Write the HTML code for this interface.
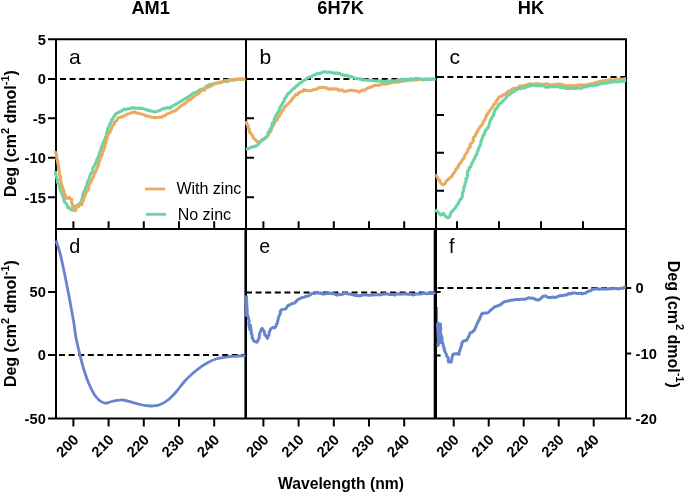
<!DOCTYPE html>
<html><head><meta charset="utf-8"><title>CD spectra</title>
<style>
html,body{margin:0;padding:0;background:#fff;}
svg{display:block;will-change:transform;}
text{font-family:"Liberation Sans",Arial,sans-serif;fill:#000;}
.b{font-weight:bold;}
.tk{font-weight:bold;font-size:14.67px;}
.ttl{font-weight:bold;font-size:18.2px;}
.ax{font-weight:bold;font-size:16px;}
.lab{font-size:21.33px;}
.lg{font-size:16px;}
</style></head><body>
<svg width="685" height="494" viewBox="0 0 685 494">
<rect width="685" height="494" fill="#fff"/>

<text class="ttl" x="150.6" y="14" text-anchor="middle">AM1</text>
<text class="ttl" x="340.6" y="14" text-anchor="middle">6H7K</text>
<text class="ttl" x="531" y="14" text-anchor="middle">HK</text>
<path d="M60.0,78.9H66.0M69.6,78.9H75.6M79.2,78.9H85.2M88.8,78.9H94.8M98.4,78.9H104.4M108.0,78.9H114.0M117.6,78.9H123.6M127.2,78.9H133.2M136.8,78.9H142.8M146.4,78.9H152.4M156.0,78.9H162.0M165.6,78.9H171.6M175.2,78.9H181.2M184.8,78.9H190.8M194.4,78.9H200.4M204.0,78.9H210.0M213.6,78.9H219.6M223.2,78.9H229.2M232.8,78.9H238.8M242.4,78.9H246.0" stroke="#000" stroke-width="2.0" fill="none"/>
<path d="M257.0,78.9H263.0M266.6,78.9H272.6M276.2,78.9H282.2M285.8,78.9H291.8M295.4,78.9H301.4M305.0,78.9H311.0M314.6,78.9H320.6M324.2,78.9H330.2M333.8,78.9H339.8M343.4,78.9H349.4M353.0,78.9H359.0M362.6,78.9H368.6M372.2,78.9H378.2M381.8,78.9H387.8M391.4,78.9H397.4M401.0,78.9H407.0M410.6,78.9H416.6M420.2,78.9H426.2M429.8,78.9H435.8" stroke="#000" stroke-width="2.0" fill="none"/>
<path d="M447.4,77.1H453.4M457.0,77.1H463.0M466.6,77.1H472.6M476.2,77.1H482.2M485.8,77.1H491.8M495.4,77.1H501.4M505.0,77.1H511.0M514.6,77.1H520.6M524.2,77.1H530.2M533.8,77.1H539.8M543.4,77.1H549.4M553.0,77.1H559.0M562.6,77.1H568.6M572.2,77.1H578.2M581.8,77.1H587.8M591.4,77.1H597.4M601.0,77.1H607.0M610.6,77.1H616.6M620.2,77.1H626.0" stroke="#000" stroke-width="2.0" fill="none"/>
<path d="M59.0,355H65.0M68.6,355H74.6M78.2,355H84.2M87.8,355H93.8M97.4,355H103.4M107.0,355H113.0M116.6,355H122.6M126.2,355H132.2M135.8,355H141.8M145.4,355H151.4M155.0,355H161.0M164.6,355H170.6M174.2,355H180.2M183.8,355H189.8M193.4,355H199.4M203.0,355H209.0M212.6,355H218.6M222.2,355H228.2M231.8,355H237.8M241.4,355H246.0" stroke="#000" stroke-width="2.0" fill="none"/>
<path d="M246.0,292.4H252.0M255.6,292.4H261.6M265.2,292.4H271.2M274.8,292.4H280.8M284.4,292.4H290.4M294.0,292.4H300.0M303.6,292.4H309.6M313.2,292.4H319.2M322.8,292.4H328.8M332.4,292.4H338.4M342.0,292.4H348.0M351.6,292.4H357.6M361.2,292.4H367.2M370.8,292.4H376.8M380.4,292.4H386.4M390.0,292.4H396.0M399.6,292.4H405.6M409.2,292.4H415.2M418.8,292.4H424.8M428.4,292.4H434.4" stroke="#000" stroke-width="2.0" fill="none"/>
<path d="M437.8,288H443.8M447.4,288H453.4M457.0,288H463.0M466.6,288H472.6M476.2,288H482.2M485.8,288H491.8M495.4,288H501.4M505.0,288H511.0M514.6,288H520.6M524.2,288H530.2M533.8,288H539.8M543.4,288H549.4M553.0,288H559.0M562.6,288H568.6M572.2,288H578.2M581.8,288H587.8M591.4,288H597.4M601.0,288H607.0M610.6,288H616.6M620.2,288H626.0" stroke="#000" stroke-width="2.0" fill="none"/>
<path d="M56,38.3V419.6M246,39.3V418.6M436,39.3V418.6M626,38.3V419.6M245.4,228.9V418.6M434.7,228.9V418.6M56,39.3H626M56,228.9H626M56,418.6H626M48,39.3H56M48,78.9H56M48,118.3H56M48,157.8H56M48,197.3H56M48,292H56M48,355H56M48,418.6H56M246,78.9H254M246,118.3H254M246,157.8H254M246,197.3H254M436,77.1H444M436,115H444M436,152.8H444M436,190.7H444M436,292H440.6M436,355.5H440.6M626,288H631.2M626,353.4H631.2M626,418.6H631.2M73.4,228.9V221.3M108.6,228.9V221.3M143.8,228.9V221.3M179.0,228.9V221.3M214.2,228.9V221.3M263.4,228.9V221.3M298.6,228.9V221.3M333.8,228.9V221.3M369.0,228.9V221.3M404.2,228.9V221.3M457.0,228.9V221.3M499.0,228.9V221.3M541.0,228.9V221.3M583.0,228.9V221.3M73.4,418.6V426.6M108.6,418.6V426.6M143.8,418.6V426.6M179.0,418.6V426.6M214.2,418.6V426.6M263.4,418.6V426.6M298.6,418.6V426.6M333.8,418.6V426.6M369.0,418.6V426.6M404.2,418.6V426.6M453.7,418.6V426.6M488.7,418.6V426.6M523.7,418.6V426.6M558.7,418.6V426.6M593.7,418.6V426.6" stroke="#000" stroke-width="2.0" fill="none" stroke-linecap="butt"/>
<g>
<polyline points="55.5,171.0 55.4,172.9 55.7,174.7 56.4,176.5 56.9,178.2 57.3,180.0 57.3,181.9 58.5,183.6 59.5,185.3 59.6,187.2 60.1,188.8 60.6,190.5 61.5,192.0 61.8,193.7 62.4,195.2 63.5,196.6 63.5,198.3 64.2,199.8 64.2,201.6 65.4,202.8 66.4,203.7 67.0,205.0 67.7,206.1 67.9,207.5 69.6,208.2 70.9,209.3 72.0,209.9 73.2,210.3 74.4,208.3 75.2,206.3 76.9,205.7 78.2,204.7 79.8,203.5 81.0,201.9 81.8,200.5 81.9,198.9 82.4,197.4 83.0,195.9 82.9,194.2 83.6,192.8 84.2,191.1 85.5,189.8 85.5,188.0 86.3,186.4 86.9,184.8 87.3,183.1 87.5,181.4 88.9,180.0 89.1,178.3 90.0,176.8 90.1,175.0 91.0,173.5 92.1,172.2 92.8,170.6 92.7,168.7 93.3,167.1 94.4,165.7 95.3,164.2 95.8,162.6 96.5,161.0 96.9,159.2 98.0,157.8 98.8,156.3 99.1,154.5 99.4,152.9 100.1,151.3 101.1,149.9 101.0,148.0 102.0,146.6 102.3,144.9 103.1,143.4 103.6,141.8 104.3,140.2 105.3,138.7 105.5,137.0 106.4,135.5 106.5,133.7 107.0,132.0 107.8,130.5 107.5,128.6 108.8,127.2 109.5,125.6 109.7,123.9 111.0,122.6 111.6,120.9 111.9,119.2 113.4,118.0 114.0,116.4 115.0,115.0 116.0,113.6 117.8,113.1 119.2,112.0 120.8,111.2 122.5,110.5 123.8,109.1 125.8,109.7 127.4,108.7 129.2,108.9 130.8,108.1 132.5,107.9 134.3,107.8 136.1,108.2 137.6,108.1 139.2,108.0 140.8,108.4 142.5,108.4 144.0,109.0 145.6,109.3 146.9,110.2 148.6,110.1 150.0,110.9 151.7,111.1 153.4,111.5 155.0,112.2 156.8,111.3 158.6,110.7 160.4,110.1 162.1,109.3 163.5,108.3 165.2,108.6 166.7,107.6 168.4,107.9 170.1,108.2 171.6,106.6 173.1,105.7 174.8,104.9 176.4,103.9 178.0,103.0 179.2,102.0 180.8,101.6 182.1,100.7 183.3,99.6 184.7,98.9 186.1,98.2 187.5,97.4 188.7,96.4 190.1,95.7 191.3,94.6 192.5,93.6 193.9,92.9 195.6,92.5 197.1,91.8 198.5,90.8 199.9,89.8 201.6,89.2 203.4,88.7 205.0,87.7 206.3,86.3 208.0,85.6 209.5,84.7 211.1,84.2 212.8,84.1 214.4,83.5 216.1,83.3 217.7,83.1 219.2,82.7 220.9,82.6 222.4,81.7 223.9,81.3 225.6,81.4 227.4,81.7 228.8,80.7 230.3,80.0 232.0,80.1 233.6,80.3 235.2,79.4 236.8,79.8 238.4,79.2 240.0,79.6 241.8,79.4 243.7,79.2 245.5,79.0" fill="none" stroke="#6CD4A4" stroke-width="3.1" stroke-linejoin="round" stroke-linecap="butt"/>
<polyline points="56.0,151.0 55.5,152.7 56.6,154.2 56.5,155.9 56.8,157.5 56.9,159.2 57.7,160.7 57.7,162.4 58.0,164.0 58.3,165.6 58.5,167.3 58.7,168.9 58.9,170.5 59.4,172.1 59.3,173.8 59.9,175.4 60.9,176.9 59.9,178.7 60.7,180.3 61.1,181.9 61.3,183.5 61.8,185.1 62.3,186.7 63.0,188.2 63.2,189.9 64.1,191.3 63.7,193.1 65.0,194.5 65.6,196.4 66.4,198.3 67.8,197.9 69.1,197.3 69.9,198.8 71.8,199.5 71.4,201.7 71.9,203.3 72.5,204.9 72.4,206.6 73.8,207.9 74.3,209.5 75.6,210.7 75.8,209.8 76.1,208.3 76.9,207.1 78.8,206.6 79.3,205.1 80.1,203.8 81.9,204.7 82.1,202.9 82.8,201.2 83.8,199.7 83.7,197.7 84.9,196.3 85.0,194.4 86.2,193.0 86.6,191.2 88.1,190.0 88.6,188.3 88.9,186.5 89.2,184.7 90.2,183.2 91.1,181.7 91.6,180.0 92.6,178.5 93.5,177.0 93.9,175.3 94.5,173.6 95.5,172.2 95.9,170.4 96.9,169.0 97.3,167.2 98.4,165.8 98.5,164.0 98.9,162.3 99.8,160.9 100.2,159.2 100.7,157.5 101.5,156.0 102.4,154.5 102.1,152.6 103.2,151.2 103.7,149.5 104.1,147.9 104.9,146.4 104.7,144.6 105.8,143.1 106.0,141.4 106.6,139.9 107.0,138.2 107.4,136.6 107.8,134.9 108.8,133.6 110.0,132.4 110.4,130.8 111.1,129.4 111.7,127.9 112.1,126.3 113.1,125.1 114.5,123.9 114.7,122.0 116.2,120.9 117.2,119.6 118.0,118.0 119.7,117.5 121.4,116.9 123.1,116.4 124.6,115.5 126.2,114.8 127.6,114.0 129.3,113.7 130.8,113.0 132.4,112.5 134.0,111.8 135.6,112.6 137.1,113.2 138.8,113.1 140.4,113.7 142.0,114.2 143.6,114.6 145.1,115.5 146.8,115.9 148.5,116.1 150.1,116.7 151.7,117.3 153.3,117.4 155.0,117.6 156.7,117.5 158.3,117.5 160.0,117.1 161.8,117.3 163.1,115.9 164.9,115.7 166.3,114.4 167.9,113.8 169.6,113.2 171.1,112.3 172.7,111.4 174.5,111.0 176.1,110.2 177.4,109.1 178.6,107.9 179.8,106.8 181.2,105.9 182.6,104.9 184.0,104.0 185.5,103.2 186.6,102.0 187.9,100.8 189.2,99.8 190.9,99.3 192.0,98.0 193.4,97.1 194.7,96.1 196.1,95.1 197.4,94.0 198.9,93.3 200.1,92.2 200.9,90.4 202.6,90.3 204.5,90.3 205.1,88.3 206.7,87.9 208.2,87.3 209.6,86.3 211.4,86.0 212.7,84.6 214.3,83.9 216.0,83.5 217.5,82.9 219.1,82.3 220.9,82.2 222.4,81.6 224.0,81.0 225.6,80.6 227.2,80.5 228.8,80.1 230.4,79.7 232.0,79.8 233.6,79.6 235.2,79.4 236.8,79.4 238.4,78.8 240.0,79.0 241.8,78.8 243.7,79.4 245.5,79.0" fill="none" stroke="#EAAB61" stroke-width="3.1" stroke-linejoin="round" stroke-linecap="butt"/>
<polyline points="246.0,121.0 246.5,122.6 246.8,124.3 248.0,125.6 248.0,127.4 248.9,128.8 249.5,130.4 249.5,132.2 251.0,133.5 252.0,135.0 252.8,136.6 253.7,138.2 255.0,139.2 255.9,140.6 257.2,141.6 258.1,142.9 259.3,142.2 260.5,141.3 261.8,140.6 262.9,139.6 264.4,138.9 265.6,138.0 266.7,136.9 268.0,136.0 268.4,134.2 269.6,132.8 270.5,131.2 271.4,129.7 271.8,127.9 272.8,126.5 273.2,124.8 274.4,123.6 274.9,121.9 275.9,120.6 277.4,119.6 277.4,117.7 279.1,116.7 279.8,115.2 280.5,113.7 281.5,112.4 282.4,110.9 283.4,109.6 283.9,108.0 285.1,106.7 286.3,105.5 287.4,104.2 288.8,103.2 289.8,101.8 291.4,100.8 292.0,98.8 293.4,97.6 294.6,96.2 295.5,94.6 297.6,94.7 298.3,92.7 300.0,92.4 301.2,91.5 302.9,91.3 303.7,89.5 305.4,90.6 307.0,90.3 308.5,90.7 310.0,90.8 311.6,90.7 312.9,89.7 314.5,89.5 316.0,89.1 317.7,89.0 318.8,87.3 320.6,87.9 322.1,87.3 323.6,87.3 325.2,87.9 326.8,88.1 328.3,89.1 330.0,89.1 331.5,88.9 333.0,88.9 334.5,88.9 336.0,88.9 337.7,89.3 339.0,90.6 341.0,90.0 342.7,90.1 344.0,91.6 345.6,91.2 347.2,91.1 348.8,90.6 350.4,90.3 352.0,90.1 353.7,90.7 355.5,90.7 357.3,91.1 358.9,92.2 360.8,91.1 362.4,90.0 364.5,90.3 366.1,89.2 367.5,88.2 369.1,87.5 370.8,87.3 372.3,86.4 373.9,85.7 375.5,85.3 377.2,85.2 378.9,85.4 380.4,84.6 381.9,84.0 383.6,84.3 385.2,83.9 386.8,83.8 388.5,83.6 390.0,83.0 391.7,82.7 393.3,82.5 395.0,82.0 396.7,82.3 398.4,82.2 400.0,81.7 401.7,81.3 403.3,81.1 405.0,80.8 406.6,80.6 408.3,80.5 410.0,80.1 411.7,80.1 413.3,79.7 415.0,80.1 416.7,79.9 418.3,79.4 419.9,78.9 421.6,79.5 423.2,79.8 424.8,79.1 426.4,79.1 428.0,79.0 429.9,79.3 431.7,78.8 433.6,79.3 435.5,79.0" fill="none" stroke="#EAAB61" stroke-width="3.1" stroke-linejoin="round" stroke-linecap="butt"/>
<polyline points="246.0,149.5 247.5,148.9 249.1,148.4 250.4,147.5 252.0,147.1 253.6,146.8 255.0,146.1 256.6,145.9 257.9,144.7 259.0,143.8 259.8,142.4 260.8,141.1 262.0,140.0 263.4,139.1 264.7,138.1 266.1,137.1 267.4,135.9 267.8,134.3 268.0,132.6 269.3,131.4 269.8,129.9 270.5,128.4 271.7,127.0 271.9,125.3 272.1,123.5 273.4,122.3 273.9,120.6 274.3,119.0 275.1,117.4 275.8,115.9 276.7,114.5 277.4,112.9 278.3,111.5 279.5,110.2 279.5,108.4 280.3,106.9 281.2,105.5 282.3,104.1 282.7,102.5 284.1,101.4 284.2,99.5 285.2,98.1 286.3,96.8 286.9,95.3 287.8,93.9 289.3,92.9 290.6,91.8 291.6,90.4 292.7,89.1 294.3,88.3 295.3,87.1 296.4,85.9 297.8,85.3 298.6,83.8 300.0,83.0 301.4,82.3 302.7,81.3 303.9,80.4 305.4,79.8 306.6,78.7 307.9,77.8 309.5,76.9 311.4,76.8 312.7,75.5 314.6,75.1 316.1,74.1 317.6,73.5 319.2,73.4 320.8,72.9 322.4,72.4 323.9,71.6 325.5,72.0 327.0,72.3 328.5,72.1 330.0,72.3 331.5,72.8 333.2,72.8 334.7,73.5 336.5,72.8 338.0,73.5 339.8,73.2 341.1,74.6 342.8,74.8 344.3,75.6 346.0,75.4 347.8,75.4 349.1,76.9 350.9,76.6 352.5,77.1 354.0,77.9 355.6,78.5 357.2,78.5 358.8,79.0 360.5,78.7 361.9,80.1 363.6,79.7 365.2,80.0 366.8,80.3 368.4,80.3 370.0,80.5 371.7,80.2 373.3,80.6 375.0,80.8 376.6,81.1 378.3,80.9 380.0,81.0 381.5,81.2 383.0,81.4 384.5,81.4 386.0,81.3 387.6,81.0 389.2,81.3 390.8,80.9 392.4,80.6 394.1,81.4 395.6,80.5 397.2,80.3 398.8,80.0 400.4,79.5 402.0,79.9 403.6,79.5 405.2,79.4 406.8,79.5 408.4,79.4 410.0,79.1 411.5,78.9 413.1,79.3 414.5,78.7 416.0,78.1 417.6,78.8 419.2,78.8 420.8,78.9 422.4,79.2 424.0,79.3 425.7,79.8 427.3,79.2 428.9,79.2 430.6,79.4 432.2,78.9 433.9,79.3 435.5,79.0" fill="none" stroke="#6CD4A4" stroke-width="3.1" stroke-linejoin="round" stroke-linecap="butt"/>
<polyline points="435.5,174.6 436.7,176.0 437.6,177.5 438.0,179.3 439.7,180.3 440.0,182.2 441.5,183.4 442.2,184.5 443.7,184.7 445.2,183.4 446.0,181.5 447.4,180.2 448.8,178.8 450.2,177.5 451.9,176.4 452.5,174.7 453.6,173.3 454.8,172.0 455.5,170.3 456.3,168.8 457.9,167.6 458.2,166.0 459.0,164.6 460.1,163.5 460.9,162.1 461.8,160.8 462.7,159.2 464.2,158.0 464.6,156.0 465.5,154.4 466.6,152.9 467.7,151.5 467.9,149.7 468.6,148.1 470.3,147.0 470.0,144.9 471.1,143.5 472.2,142.1 473.4,140.8 473.2,138.9 473.6,137.2 475.2,136.1 475.6,134.4 476.4,132.9 477.4,131.6 478.1,130.0 479.1,128.5 479.9,126.9 481.3,125.7 482.4,124.3 483.0,122.5 483.9,120.9 485.0,119.5 485.7,117.9 486.1,116.1 487.1,114.5 488.3,113.1 489.0,111.6 489.9,110.3 491.1,109.0 492.0,107.7 493.0,106.3 493.5,104.7 495.3,103.9 495.7,102.4 496.3,100.9 497.6,99.8 498.2,98.4 499.0,97.0 500.6,96.5 502.1,96.0 503.3,94.7 504.8,94.2 506.3,93.6 507.4,91.8 509.1,91.0 510.9,90.4 512.1,88.9 514.0,88.3 515.7,88.2 517.3,87.6 518.9,86.9 520.2,85.6 522.2,86.3 523.6,85.5 525.2,85.3 526.8,85.0 528.3,84.1 529.9,84.0 531.6,83.9 533.4,84.8 535.0,83.9 536.7,83.9 538.3,83.8 540.0,84.0 541.7,84.2 543.5,84.4 545.3,84.1 547.2,83.8 548.8,85.0 550.5,84.9 552.3,85.1 554.0,84.5 555.7,84.3 557.5,84.4 559.3,84.0 560.9,84.4 562.6,84.6 564.3,85.2 565.9,85.9 567.7,85.7 569.4,85.9 571.1,85.7 572.8,85.7 574.6,85.6 576.3,85.7 578.0,85.1 579.6,85.2 581.3,84.9 583.1,85.3 584.8,85.0 586.5,84.9 588.3,84.8 589.9,83.8 591.7,83.8 593.4,83.6 595.0,82.6 596.8,82.5 598.4,81.8 600.0,81.1 601.8,81.3 603.5,80.8 605.2,80.8 606.9,80.3 608.6,80.3 610.2,79.4 612.1,80.5 613.7,80.1 615.4,79.4 617.1,79.1 618.8,79.2 620.6,79.2 622.4,79.0 624.2,78.8 626.0,78.5" fill="none" stroke="#EAAB61" stroke-width="3.1" stroke-linejoin="round" stroke-linecap="butt"/>
<polyline points="435.5,209.2 436.3,210.7 437.8,211.7 438.6,212.7 439.7,213.8 440.6,215.1 442.3,214.3 443.5,213.3 444.5,215.2 445.8,216.3 446.7,217.5 448.2,217.7 449.6,216.8 450.0,215.1 450.7,213.6 451.5,212.0 452.7,210.7 453.8,209.3 455.1,208.1 456.0,206.6 456.9,205.0 458.3,203.9 458.6,202.1 459.8,200.9 460.2,199.3 461.6,198.2 462.2,196.6 462.4,195.0 462.4,193.3 463.2,191.8 463.6,190.2 463.7,188.6 464.0,187.0 465.0,185.6 464.9,183.9 465.6,182.3 466.2,180.8 465.8,178.9 467.2,177.6 467.4,175.9 467.3,174.2 467.6,172.5 467.9,170.9 469.2,169.7 469.0,167.9 470.6,167.0 471.0,165.5 471.6,163.9 472.4,162.4 473.2,160.9 473.9,159.4 475.0,158.0 475.3,156.3 476.4,155.0 477.0,153.5 477.3,151.8 478.1,150.4 478.4,148.8 479.2,147.3 479.9,145.7 480.8,144.3 480.8,142.5 481.3,140.8 481.9,139.2 482.4,137.6 482.7,135.9 484.2,134.8 484.3,133.1 485.0,131.6 485.7,130.2 486.8,128.9 488.1,127.8 488.8,126.4 489.0,124.6 489.5,122.9 490.1,121.3 490.6,119.6 491.8,118.2 492.3,116.6 493.6,115.3 493.8,113.5 494.4,111.9 495.0,110.2 495.9,108.7 497.3,107.6 498.1,106.1 499.0,104.6 500.1,103.3 501.7,102.5 502.7,101.1 504.0,100.0 505.2,98.8 506.2,97.4 507.2,96.0 508.8,95.2 510.0,94.0 511.5,92.9 513.2,92.0 514.7,90.9 515.9,89.5 517.6,89.4 519.0,88.2 520.8,88.6 522.4,88.0 524.1,87.9 525.7,87.4 527.1,86.4 528.8,86.1 530.5,86.0 532.0,85.0 533.6,85.4 535.2,85.3 536.8,85.8 538.4,85.8 540.0,85.7 541.9,85.8 543.8,85.9 545.4,87.1 547.3,87.1 549.0,86.9 550.8,86.8 552.5,86.5 554.3,86.8 556.0,86.7 557.8,86.1 559.4,87.1 561.1,87.4 562.9,87.5 564.6,87.9 566.2,88.7 568.0,88.3 569.6,88.6 571.3,88.5 573.0,87.7 574.7,88.7 576.3,88.3 578.0,88.1 579.7,88.2 581.5,88.3 583.1,87.1 584.8,86.9 586.5,86.9 588.1,86.0 589.8,85.8 591.6,85.8 593.3,85.6 595.0,85.2 596.8,84.9 598.5,84.6 600.1,83.9 601.8,83.6 603.5,83.3 605.2,82.9 607.0,83.1 608.6,82.7 610.2,81.6 612.0,82.2 613.7,81.6 615.4,81.4 617.1,82.0 618.8,81.8 620.6,81.5 622.4,81.1 624.3,81.2 626.0,80.4" fill="none" stroke="#6CD4A4" stroke-width="3.1" stroke-linejoin="round" stroke-linecap="butt"/>
<path d="M56.0,240.6C56.7,242.7 58.7,247.9 60.0,253.0C61.3,258.1 62.7,264.7 64.0,271.0C65.3,277.3 66.8,285.0 68.0,291.0C69.2,297.0 70.0,301.5 71.0,307.0C72.0,312.5 73.2,318.6 74.0,323.8C74.8,329.0 75.0,332.8 76.0,338.0C77.0,343.2 78.7,349.7 80.0,355.0C81.3,360.3 82.5,365.2 84.0,370.0C85.5,374.8 87.3,380.0 89.0,384.0C90.7,388.0 92.3,391.3 94.0,394.0C95.7,396.7 97.2,398.5 99.0,400.0C100.8,401.5 103.2,402.9 105.0,403.2C106.8,403.5 108.2,402.4 110.0,402.0C111.8,401.6 113.8,400.9 116.0,400.6C118.2,400.3 120.7,399.8 123.0,400.0C125.3,400.2 127.5,400.9 130.0,401.6C132.5,402.3 135.3,403.3 138.0,404.0C140.7,404.7 143.7,405.3 146.0,405.6C148.3,405.9 149.8,406.1 152.0,406.0C154.2,405.9 156.3,406.0 159.0,405.0C161.7,404.0 165.2,402.2 168.0,400.0C170.8,397.8 173.3,395.0 176.0,392.0C178.7,389.0 181.3,385.0 184.0,382.0C186.7,379.0 189.3,376.4 192.0,374.0C194.7,371.6 197.3,369.5 200.0,367.6C202.7,365.7 205.3,363.8 208.0,362.4C210.7,361.0 213.3,359.8 216.0,359.0C218.7,358.2 221.3,357.8 224.0,357.4C226.7,357.0 229.3,356.6 232.0,356.4C234.7,356.2 237.8,356.1 240.0,356.0C242.2,355.9 244.6,355.7 245.5,355.6" fill="none" stroke="#6884CE" stroke-width="2.8" stroke-linejoin="round"/>
<polyline points="246.6,300.0 246.7,301.8 246.6,303.6 246.9,305.4 247.0,307.2 247.2,309.0 247.2,310.5 247.0,312.0 247.3,313.5 247.3,315.0 248.0,316.5 248.5,318.0 248.7,319.7 249.3,321.3 248.8,323.0 249.0,324.7 249.1,326.4 249.8,328.0 249.9,329.7 249.6,328.2 250.1,326.9 250.6,325.5 250.7,327.1 250.7,328.8 251.2,330.4 251.1,332.0 251.5,333.9 252.2,335.7 252.1,337.7 253.0,339.0 253.6,340.4 254.6,341.5 255.8,341.7 257.1,342.1 257.7,340.7 258.6,339.2 259.2,337.6 259.3,335.9 259.5,334.3 259.9,332.6 260.7,331.1 261.1,329.6 262.2,328.4 262.8,329.8 264.0,330.8 264.4,332.8 264.7,334.6 266.2,336.1 266.7,337.2 267.6,338.3 267.9,336.7 268.8,335.3 269.2,333.7 269.2,332.0 270.1,330.6 270.5,329.0 271.7,328.2 273.1,327.4 274.9,327.9 275.9,326.2 276.5,324.3 277.4,323.0 277.6,321.4 278.0,319.9 278.3,318.3 278.8,316.8 279.4,315.3 280.4,313.6 280.3,311.6 281.1,309.9 283.4,309.4 285.5,309.0 286.6,307.8 287.4,306.3 288.4,305.2 290.1,304.8 291.3,304.0 292.6,303.3 294.1,303.2 295.4,302.2 296.4,301.0 297.6,300.0 298.9,299.1 300.3,298.3 301.5,297.8 303.0,297.4 304.5,297.1 305.9,296.2 307.6,296.2 309.1,295.5 310.6,294.8 311.8,293.5 313.5,293.5 315.0,293.6 316.4,292.7 318.0,292.8 319.5,293.3 321.1,293.1 322.4,294.1 324.0,294.1 325.5,293.7 327.0,293.6 328.5,293.4 330.0,293.0 331.5,293.7 333.2,293.6 334.8,294.1 336.3,294.9 338.0,295.0 339.4,294.4 341.1,294.4 342.6,294.2 344.0,293.3 345.6,293.3 347.2,293.8 348.8,294.0 350.4,294.1 352.0,294.7 353.6,294.6 354.9,295.5 356.6,295.3 358.1,295.8 359.5,295.8 361.1,295.6 362.5,295.2 364.0,294.7 365.5,294.8 367.0,294.9 368.5,295.2 370.0,295.2 371.8,295.1 373.5,295.0 375.3,294.8 377.0,294.8 378.8,294.6 380.6,294.9 382.4,294.3 384.2,294.0 386.0,293.9 387.8,294.1 389.6,294.5 391.4,294.3 393.2,294.6 395.0,295.1 396.7,293.8 398.6,294.0 400.4,294.2 402.2,294.1 404.0,293.9 405.8,293.8 407.6,294.2 409.4,294.2 411.2,294.1 413.0,295.0 414.8,294.4 416.6,294.0 418.4,294.0 420.2,293.9 422.0,293.8 423.6,293.0 425.2,293.5 426.8,293.8 428.4,293.2 430.0,293.4 431.9,293.4 433.7,293.1 435.5,292.6" fill="none" stroke="#6884CE" stroke-width="3.0" stroke-linejoin="round" stroke-linecap="butt"/>
<polyline points="246.2,295.5 246.4,316.5" fill="none" stroke="#6884CE" stroke-width="3.4" stroke-linejoin="round" stroke-linecap="butt"/>
<polyline points="438.0,322.0 437.9,323.7 437.4,325.4 437.8,327.0 437.8,328.7 437.9,330.4 438.0,332.1 438.0,333.8 438.2,335.4 438.4,337.1 438.4,338.8 438.5,340.5 438.2,342.1 438.1,343.8 437.9,345.5 438.5,343.9 438.5,342.2 438.7,340.5 438.5,338.9 438.1,337.2 438.9,335.6 438.6,333.9 438.8,332.3 438.7,330.6 439.6,329.0 439.2,327.3 439.1,325.7 438.7,324.0 438.8,325.7 439.3,327.4 438.8,329.2 439.6,330.9 439.3,332.6 439.1,334.4 439.6,336.1 439.4,337.8 439.4,339.5 439.3,341.3 439.7,343.0 439.9,341.3 440.3,339.6 439.4,337.8 439.6,336.1 440.0,334.4 439.8,332.6 439.7,330.9 440.4,329.2 440.4,327.5 440.5,325.7 440.5,324.0 440.0,325.8 440.5,327.6 440.9,329.3 440.2,331.1 440.7,332.9 440.4,334.7 440.4,336.4 440.8,338.2 440.7,340.0 441.4,338.4 441.5,336.7 441.2,334.9 441.8,336.9 442.0,338.7 442.0,340.6 442.3,342.2 442.9,343.6 443.3,345.1 443.4,346.7 444.4,348.1 444.1,349.8 444.9,351.3 445.6,352.7 446.2,354.2 446.6,355.8 447.6,357.2 448.4,358.6 448.3,360.4 448.6,362.0 451.3,361.9 451.6,360.4 451.9,358.9 452.0,357.3 452.6,355.8 453.0,354.3 454.3,353.9 455.9,353.7 457.4,353.7 458.9,354.4 459.1,352.7 459.5,351.2 460.1,349.7 460.5,348.2 461.2,346.6 461.7,344.9 461.9,343.0 463.0,341.5 464.5,340.6 466.5,340.6 467.3,339.1 468.0,337.6 468.9,336.1 469.6,334.5 470.1,332.9 471.7,332.4 472.8,331.5 474.0,330.5 474.9,329.0 475.6,327.3 476.4,325.6 477.0,323.8 477.8,322.4 478.5,320.8 479.6,319.4 479.8,317.6 480.9,316.2 481.3,314.5 482.3,313.1 483.5,313.6 485.0,312.9 486.5,313.0 488.0,312.8 489.1,311.7 490.3,310.5 491.6,309.4 493.0,308.4 494.2,307.2 495.6,306.4 497.3,306.1 498.9,305.2 500.6,304.7 502.0,303.5 503.3,302.4 504.9,301.4 506.8,301.3 508.5,300.8 510.3,300.6 512.0,299.9 513.6,300.0 515.2,299.8 516.8,299.4 518.4,299.6 520.0,299.6 521.6,299.1 523.2,299.2 524.9,299.2 526.5,298.7 528.0,298.0 529.5,297.8 531.0,298.2 532.5,298.1 534.0,298.4 535.2,299.3 536.7,299.7 538.2,300.1 539.4,299.7 540.4,298.5 541.8,297.8 542.7,296.4 544.4,296.1 545.6,295.9 547.0,296.8 548.4,297.6 550.2,297.4 551.6,297.5 553.1,297.0 554.9,297.6 556.4,297.1 558.0,296.4 559.5,295.8 561.1,295.5 562.8,295.7 564.4,295.1 566.0,295.1 567.5,294.4 568.9,293.6 570.6,293.9 572.0,293.1 573.7,292.9 575.4,293.1 577.1,293.6 578.8,293.6 580.6,293.1 582.3,293.9 584.0,293.4 585.7,293.0 587.2,291.8 588.9,291.1 590.8,290.7 592.2,289.5 594.0,289.0 595.8,289.1 597.5,288.7 599.3,289.2 601.0,289.0 602.7,288.7 604.5,289.0 606.3,289.0 608.0,288.9 609.7,288.6 611.4,288.8 613.1,288.7 614.9,288.3 616.6,288.5 618.3,289.1 620.0,288.4 621.5,288.3 623.1,288.2 624.5,287.3 626.0,287.0" fill="none" stroke="#6884CE" stroke-width="3.0" stroke-linejoin="round" stroke-linecap="butt"/>
<polyline points="437.4,307.0 437.6,323.0" fill="none" stroke="#6884CE" stroke-width="1.2" stroke-linejoin="round" stroke-linecap="butt"/>
</g>
<text class="tk" x="45.8" y="44.8" text-anchor="end">5</text>
<text class="tk" x="45.8" y="84.4" text-anchor="end">0</text>
<text class="tk" x="45.8" y="123.8" text-anchor="end">-5</text>
<text class="tk" x="45.8" y="163.2" text-anchor="end">-10</text>
<text class="tk" x="45.8" y="202.8" text-anchor="end">-15</text>
<text class="tk" x="45.8" y="297.4" text-anchor="end">50</text>
<text class="tk" x="45.8" y="360.4" text-anchor="end">0</text>
<text class="tk" x="45.8" y="424.1" text-anchor="end">-50</text>
<text class="tk" x="635.6" y="293.4" text-anchor="start">0</text>
<text class="tk" x="635.6" y="358.8" text-anchor="start">-10</text>
<text class="tk" x="635.6" y="424.1" text-anchor="start">-20</text>
<text class="tk" text-anchor="middle" transform="translate(67.2,445.7) rotate(-45)" y="5.25">200</text>
<text class="tk" text-anchor="middle" transform="translate(102.4,445.7) rotate(-45)" y="5.25">210</text>
<text class="tk" text-anchor="middle" transform="translate(137.6,445.7) rotate(-45)" y="5.25">220</text>
<text class="tk" text-anchor="middle" transform="translate(172.8,445.7) rotate(-45)" y="5.25">230</text>
<text class="tk" text-anchor="middle" transform="translate(208.0,445.7) rotate(-45)" y="5.25">240</text>
<text class="tk" text-anchor="middle" transform="translate(257.2,445.7) rotate(-45)" y="5.25">200</text>
<text class="tk" text-anchor="middle" transform="translate(292.4,445.7) rotate(-45)" y="5.25">210</text>
<text class="tk" text-anchor="middle" transform="translate(327.6,445.7) rotate(-45)" y="5.25">220</text>
<text class="tk" text-anchor="middle" transform="translate(362.8,445.7) rotate(-45)" y="5.25">230</text>
<text class="tk" text-anchor="middle" transform="translate(398.0,445.7) rotate(-45)" y="5.25">240</text>
<text class="tk" text-anchor="middle" transform="translate(447.5,445.7) rotate(-45)" y="5.25">200</text>
<text class="tk" text-anchor="middle" transform="translate(482.5,445.7) rotate(-45)" y="5.25">210</text>
<text class="tk" text-anchor="middle" transform="translate(517.5,445.7) rotate(-45)" y="5.25">220</text>
<text class="tk" text-anchor="middle" transform="translate(552.5,445.7) rotate(-45)" y="5.25">230</text>
<text class="tk" text-anchor="middle" transform="translate(587.5,445.7) rotate(-45)" y="5.25">240</text>
<text class="ax" text-anchor="middle" transform="translate(16.2,133.6) rotate(-90)">Deg (cm<tspan font-size="11px" dy="-7.5">2</tspan><tspan dy="7.5"> dmol</tspan><tspan font-size="11px" dy="-7.5">-1</tspan><tspan dy="7.5">)</tspan></text>
<text class="ax" text-anchor="middle" transform="translate(16.2,323.6) rotate(-90)">Deg (cm<tspan font-size="11px" dy="-7.5">2</tspan><tspan dy="7.5"> dmol</tspan><tspan font-size="11px" dy="-7.5">-1</tspan><tspan dy="7.5">)</tspan></text>
<text class="ax" text-anchor="middle" transform="translate(668,324.3) rotate(90)">Deg (cm<tspan font-size="11px" dy="-7.5">2</tspan><tspan dy="7.5"> dmol</tspan><tspan font-size="11px" dy="-7.5">-1</tspan><tspan dy="7.5">)</tspan></text>
<text class="ax" style="font-size:15.7px" text-anchor="middle" x="341" y="489.1">Wavelength (nm)</text>
<text class="lab" style="font-size:21.1px" x="69.1" y="63.6">a</text>
<text class="lab" style="font-size:21.1px" x="259.4" y="63.6">b</text>
<text class="lab" style="font-size:21.1px" x="449.5" y="63.6">c</text>
<text class="lab" style="font-size:19.8px" x="69.2" y="253">d</text>
<text class="lab" style="font-size:19.6px" x="259.3" y="253">e</text>
<text class="lab" style="font-size:19.6px" x="449.1" y="253">f</text>
<path d="M144.9,189H165.1" stroke="#EAAB61" stroke-width="2.8"/>
<path d="M145.8,214.3H166.1" stroke="#6CD4A4" stroke-width="2.8"/>
<text class="lg" x="176.4" y="194.4">With zinc</text>
<text class="lg" x="177.7" y="219.9">No zinc</text>
</svg></body></html>
